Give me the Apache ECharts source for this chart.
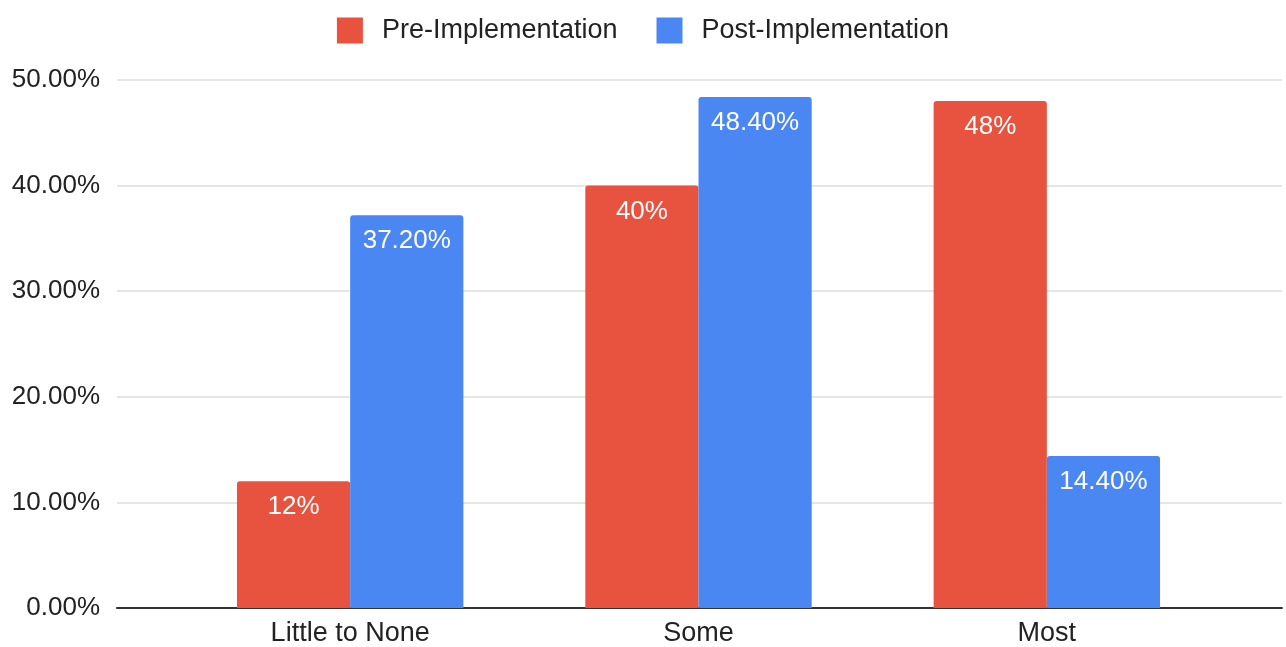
<!DOCTYPE html>
<html>
<head>
<meta charset="utf-8">
<script src="https://cdn.jsdelivr.net/npm/echarts@6/dist/echarts.min.js"></script>
<style>
html,body{margin:0;padding:0;background:#fff;}
#c{width:1286px;height:647px;}
</style>
</head>
<body>
<div id="c"></div>
<script>
const categories = ['Little to None', 'Some', 'Most'];
const preValues = [12, 40, 48];
const postValues = [37.2, 48.4, 14.4];
const seriesNames = ['Pre-Implementation', 'Post-Implementation'];
const yMin = 0, yMax = 50, yStep = 10;

const FONT = '"Liberation Sans", Arial, sans-serif';
const RED = '#E8533F';
const BLUE = '#4A87F2';

const chart = echarts.init(document.getElementById('c'));
chart.setOption({
  animation: false,
  textStyle: { fontFamily: FONT },
  legend: {
    top: 12,
    left: 'center',
    itemWidth: 26,
    itemHeight: 26,
    itemGap: 39,
    icon: 'rect',
    textStyle: { fontSize: 27, color: '#222', fontFamily: FONT, padding: [0, 0, 0, 14] },
    data: seriesNames
  },
  grid: [
    { left: 117, right: 4, top: 80, bottom: 39, containLabel: false },
    { left: 176, right: 65, top: 80, bottom: 39, containLabel: false }
  ],
  xAxis: [
    {
      gridIndex: 0, type: 'category', data: [''],
      axisLine: { show: true, lineStyle: { color: '#333', width: 2 } },
      axisTick: { show: false }, axisLabel: { show: false }, splitLine: { show: false }
    },
    {
      gridIndex: 1, type: 'category', data: categories,
      axisLine: { show: false }, axisTick: { show: false },
      axisLabel: { fontSize: 27, color: '#222', margin: 12, fontFamily: FONT }
    }
  ],
  yAxis: [
    {
      gridIndex: 0, type: 'value', min: yMin, max: yMax, interval: yStep,
      axisLine: { show: false }, axisTick: { show: false },
      axisLabel: { fontSize: 26, color: '#222', margin: 17, fontFamily: FONT,
        formatter: v => v.toFixed(2) + '%' },
      splitLine: { lineStyle: { color: '#dcdcdc', width: 1.5 } }
    },
    {
      gridIndex: 1, type: 'value', min: yMin, max: yMax, interval: yStep,
      show: false, splitLine: { show: false }
    }
  ],
  series: [
    {
      name: seriesNames[0], type: 'bar', xAxisIndex: 1, yAxisIndex: 1,
      data: preValues, barGap: 0, barCategoryGap: '35%',
      itemStyle: { color: RED, borderRadius: [3, 3, 0, 0] },
      label: { show: true, position: 'insideTop', distance: 13, color: '#fff',
        fontSize: 26, fontFamily: FONT, formatter: p => p.value + '%' }
    },
    {
      name: seriesNames[1], type: 'bar', xAxisIndex: 1, yAxisIndex: 1,
      data: postValues, barGap: 0, barCategoryGap: '35%',
      itemStyle: { color: BLUE, borderRadius: [3, 3, 0, 0] },
      label: { show: true, position: 'insideTop', distance: 13, color: '#fff',
        fontSize: 26, fontFamily: FONT, formatter: p => p.value.toFixed(2) + '%' }
    }
  ]
});
</script>
</body>
</html>
